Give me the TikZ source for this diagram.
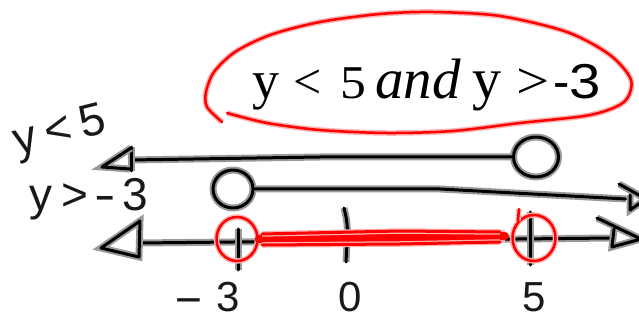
\documentclass[tikz,border=0pt]{standalone}
\usepackage{fontspec}
\setmainfont{Liberation Serif}
\newfontfamily\hand{Liberation Sans}
\newfontfamily\sanstxt{Liberation Sans}
\usepackage{graphicx}
\usetikzlibrary{shapes.geometric}
\begin{document}
\begin{tikzpicture}[x=1pt,y=-1pt,
  pen/.style={preaction={draw=black!40,line width=7pt},draw=black,line width=3pt,line cap=round,line join=round},
  redpen/.style={preaction={draw=red!30,line width=5.5pt},draw=red,line width=2.5pt,line cap=round,line join=round},
  opencirc/.style={ellipse,inner sep=0pt,pen},
  redcirc/.style={ellipse,inner sep=0pt,redpen},
  handlbl/.style={inner sep=0pt,text=black!90,font=\hand\fontsize{46}{48}\selectfont},
  numlbl/.style={inner sep=0pt,anchor=base,text=black!90,font=\hand\fontsize{42}{44}\selectfont},
  ttl/.style={anchor=base west,inner sep=0pt}
]
\useasboundingbox (0,0) rectangle (639,320);
\clip (0,0) rectangle (639,320);

% red loop round the statement
\draw[redpen] plot[smooth] coordinates {(222,122) (207,107) (206,92) (214,72) (235,52) (270,35) (320,22) (380,14) (433,12) (500,16) (567,32) (610,55) (631,80) (624,102) (590,115) (520,123) (453,131) (387,133) (320,130) (267,123) (227,113)};

% statement
\node[ttl,font=\fontsize{54}{60}\selectfont] (t1) at (252,99) {y};
\node[ttl,font=\fontsize{50}{54}\selectfont] (t2) at (293,99) {<};
\node[ttl,font=\fontsize{47}{50}\selectfont] (t3) at (340,99) {\scalebox{1.1}[1]{5}};
\node[ttl,font=\fontsize{57}{60}\selectfont\itshape] (t4) at (375,99) {and};
\node[ttl,font=\fontsize{58}{60}\selectfont] (t5) at (472,99) {y};
\node[ttl,font=\fontsize{52}{56}\selectfont] (t6) at (516,99) {\scalebox{1.13}[1]{>}};
\node[ttl,font=\sanstxt\fontsize{49}{54}\selectfont] (t7) at (553,99) {-\scalebox{1.15}[1]{3}};

% handwritten labels
\node[handlbl,rotate=14] (lab1) at (60,133) {y\hspace{9pt}<\hspace{9pt}5};
\node[handlbl] (lab2) at (89,199) {y\hspace{9pt}>\hspace{6pt}\scalebox{1.4}[1]{-}\hspace{7pt}3};
\node[numlbl] (n1) at (207,311) {\scalebox{2.2}[1]{-}\hspace{12pt}3};
\node[numlbl] (n2) at (350,311) {0};
\node[numlbl] (n3) at (534,311) {5};

% line 1 : y < 5
\node[opencirc,minimum width=45pt,minimum height=40pt] (c1) at (536,157) {};
\coordinate (a1) at (131,160);
\draw[pen] (a1) -- (320,157) -- (c1.west);
\draw[pen] (131,147) -- (131,171);
\draw[pen] (131,148) -- (102,167) -- (130,169);

% line 2 : y > -3
\node[opencirc,minimum width=40pt,minimum height=38pt] (c2) at (233,189) {};
\coordinate (a2) at (626,199);
\draw[pen] (c2.east) -- (440,189) -- (a2);
\draw[pen] (619,184) -- (646,199) -- (630,210) -- (630,195);

% line 3 : solution
\coordinate (a3l) at (139,243);
\coordinate (a3r) at (613,238);
\draw[pen] (a3l) -- (a3r);
\draw[pen] (140,221) -- (101,248) -- (139,257) -- cycle;
\draw[pen] (597,218) -- (641,239) -- (612,247) -- (614,229);

% ticks
\coordinate (k1a) at (238,229); \coordinate (k1b) at (238,270);
\coordinate (k2a) at (344,208); \coordinate (k2b) at (346,262);
\coordinate (k3a) at (530,212); \coordinate (k3b) at (530,265);
\draw[pen] (k1a) -- (k1b);
\draw[pen] (k2a) .. controls (348,225) .. (k2b);
\draw[pen] (k3a) -- (k3b);

% red solution band
\node[redcirc,minimum width=41pt,minimum height=44pt] (r1) at (237,239) {};
\node[redcirc,minimum width=43pt,minimum height=46pt] (r2) at (534,238) {};
\coordinate (rt) at (519,209);
\draw[redpen] (rt) -- (r2.north west);
\draw[redpen,line width=8pt,preaction={draw=red!30,line width=12pt}] (r1.east) -- (400,238) -- (505,236);
\draw[redpen,line width=3pt] (262,234) -- (400,231) -- (500,232);
\draw[redpen,line width=3pt] (262,245) -- (400,244) -- (500,242);
\end{tikzpicture}
\end{document}
